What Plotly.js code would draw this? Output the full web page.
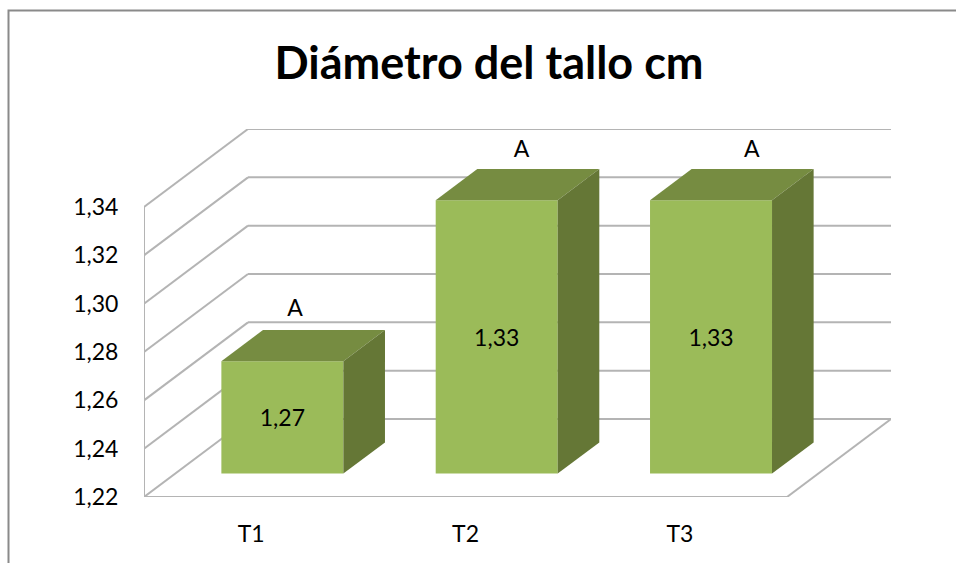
<!DOCTYPE html>
<html><head><meta charset="utf-8">
<script src="https://cdn.plot.ly/plotly-3.0.1.min.js"></script>
<style>html,body{margin:0;padding:0;background:#fff;overflow:hidden}#c{width:956px;height:563px}</style>
</head><body><div id="c"></div>
<script>
const categories = ['T1', 'T2', 'T3'];
const values = [1.2665, 1.3331, 1.3331];
const valueLabels = ['1,27', '1,33', '1,33'];
const letters = ['A', 'A', 'A'];
const letterShift = [0.205, 0.261, 0.336];
const yTicks = [1.22, 1.24, 1.26, 1.28, 1.30, 1.32, 1.34];
const yTickLabels = ['1,22', '1,24', '1,26', '1,28', '1,30', '1,32', '1,34'];

const font = 'Lato, Carlito, Calibri, sans-serif';
const W = 956, H = 563, L = 144, R = 891, T = 129, B = 497;
const pxPerCat = 643 / 3, pxPerUnit = 290 / 0.12;
const dxDepth = 104 / pxPerCat, dyDepth = 78 / pxPerUnit;
const y0 = yTicks[0];
const barW = 122 / pxPerCat;
const nearD = 0.30, farD = 0.70;
const xr = [-0.5, -0.5 + (R - L) / pxPerCat];
const yr = [y0, y0 + (B - T) / pxPerUnit];

const gridColor = '#b4b4b4';
const shapes = [];
const line = (x0, y_0, x1, y1, color, width) => shapes.push({type: 'line', layer: 'below', xref: 'x', yref: 'y',
  x0, y0: y_0, x1, y1, line: {color: color || gridColor, width: width || 2}});
yTicks.forEach(t => {
  line(-0.5, t, -0.5 + dxDepth, t + dyDepth);
  line(-0.5 + dxDepth, t + dyDepth, 2.5 + dxDepth, t + dyDepth);
});
line(-0.5, y0, -0.5, yTicks[yTicks.length - 1]);
line(-0.5, y0, 2.5, y0);
line(2.5, y0, 2.5 + dxDepth, y0 + dyDepth);
// outer chart frame, open on the right and at the bottom
const px = x => (x - L) / (R - L), py = y => (B - y) / (B - T);
shapes.push({type: 'path', xref: 'paper', yref: 'paper', layer: 'below',
  path: `M ${px(8.5)} ${py(H)} L ${px(8.5)} ${py(10.5)} L ${px(W)} ${py(10.5)}`,
  line: {color: '#8a8a8a', width: 2}});

const traces = [];
// side and top faces, one filled polygon each per bar
categories.forEach((c, i) => {
  const xl = i - barW / 2, xrr = i + barW / 2, v = values[i];
  const P = (x, d, y) => [x + d * dxDepth, y + d * dyDepth];
  const poly = (pts, color) => traces.push({type: 'scatter', mode: 'lines', fill: 'toself', fillcolor: color,
    line: {width: 0, color: color}, x: pts.map(p => p[0]), y: pts.map(p => p[1]), hoverinfo: 'skip', showlegend: false});
  poly([P(xl, nearD, v), P(xrr, nearD, v), P(xrr, farD, v), P(xl, farD, v), P(xl, nearD, v)], '#768c41');
  poly([P(xrr, nearD, y0), P(xrr, farD, y0), P(xrr, farD, v), P(xrr, nearD, v), P(xrr, nearD, y0)], '#657736');
});
// front faces
traces.push({type: 'bar',
  x: categories.map((c, i) => i + nearD * dxDepth),
  y: values.map(v => v - y0),
  base: values.map(() => y0 + nearD * dyDepth),
  width: barW, marker: {color: '#9bbb59', line: {width: 0}},
  text: valueLabels, textposition: 'inside', insidetextanchor: 'middle', textangle: 0,
  insidetextfont: {family: font, size: 23, color: '#000'}, constraintext: 'none',
  hoverinfo: 'skip', showlegend: false});
// significance letters
traces.push({type: 'scatter', mode: 'text',
  x: categories.map((c, i) => i + letterShift[i]),
  y: values.map((v, i) => v + farD * dyDepth + (i === 0 ? 20 : 18) / pxPerUnit),
  text: letters, textposition: 'middle center', textfont: {family: font, size: 23, color: '#000'},
  hoverinfo: 'skip', showlegend: false, cliponaxis: false});

const layout = {
  width: W, height: H, margin: {l: L, r: W - R, t: T, b: H - B, pad: 0},
  paper_bgcolor: '#fff', plot_bgcolor: 'rgba(0,0,0,0)', showlegend: false, barmode: 'overlay',
  title: {text: 'Diámetro del tallo cm', font: {family: font, size: 45, color: '#000', weight: 700},
    xref: 'container', yref: 'container', x: 489 / W, xanchor: 'center', y: 1 - 63 / H, yanchor: 'middle'},
  xaxis: {range: xr, tickmode: 'array', tickvals: [0, 1, 2], ticktext: categories, showgrid: false, zeroline: false,
    showline: false, ticks: 'outside', ticklen: 16, tickcolor: 'rgba(0,0,0,0)', tickfont: {family: font, size: 23, color: '#000'}, fixedrange: true},
  yaxis: {range: yr, tickmode: 'array', tickvals: yTicks, ticktext: yTickLabels, showgrid: false, zeroline: false,
    showline: false, ticks: 'outside', ticklen: 20, tickcolor: 'rgba(0,0,0,0)', tickfont: {family: font, size: 23, color: '#000'}, fixedrange: true},
  shapes
};
Plotly.newPlot('c', traces, layout, {displayModeBar: false, staticPlot: true});
</script></body></html>
